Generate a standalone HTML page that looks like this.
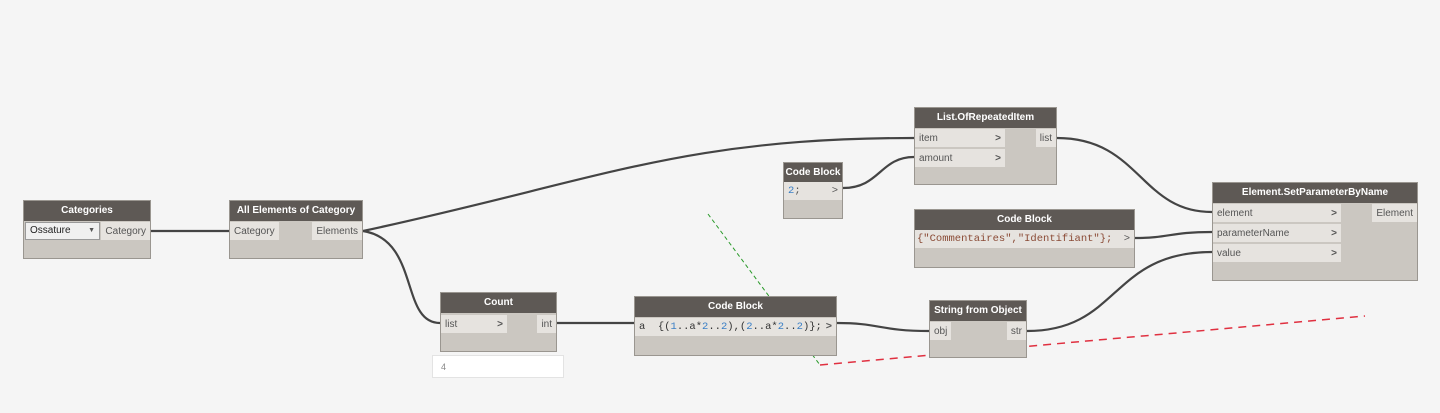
<!DOCTYPE html>
<html><head><style>
body{margin:0;width:1440px;height:413px;background:#f5f5f5;position:relative;overflow:hidden;font-family:"Liberation Sans",sans-serif;font-size:10px;color:#555}
.n{position:absolute;background:#cbc7c1;border:1px solid #9a9690;box-sizing:border-box}
.h{background:#5e5955;color:#fff;font-weight:bold;font-size:10px;text-align:center;height:20px;line-height:20px}
.p{position:absolute;background:#e6e3df;height:18px;line-height:19px;padding:0 4px;box-sizing:border-box;white-space:nowrap}
.a{position:absolute;right:4px;font-weight:bold;color:#555}
.m{font-family:"Liberation Mono",monospace;font-size:10.5px}
.b{color:#3a7fc6}.s{color:#8a4a35}
svg{position:absolute;left:0;top:0}
</style></head><body>
<svg width="1440" height="413">
<g fill="none" stroke="#444" stroke-width="2.2">
<path d="M151 231 L229 231"/>
<path d="M363 231 C600 180, 680 138, 914 138"/>
<path d="M363 231 C420 240, 400 323, 440 323"/>
<path d="M557 323 L634 323"/>
<path d="M837 323 C880 323, 880 331, 929 331"/>
<path d="M843 188 C880 188, 880 157, 914 157"/>
<path d="M1057 138 C1140 138, 1140 212, 1212 212"/>
<path d="M1135 238 C1170 238, 1170 232, 1212 232"/>
<path d="M1027 331 C1120 331, 1110 252, 1212 252"/>
</g>
<path d="M708 214 L820 365" stroke="#2a9a2a" stroke-width="1" stroke-dasharray="4,3"/>
<path d="M820 365 L1365 316" stroke="#e03040" stroke-width="1.5" stroke-dasharray="8,6"/>
</svg>

<div class="n" style="left:23px;top:200px;width:128px;height:59px"><div class="h">Categories</div>
<div class="p" style="left:1px;top:21px;width:75px;background:#f0f0f0;border:1px solid #999;color:#222;line-height:16px">Ossature<span class="a" style="font-size:7px">▼</span></div>
<div class="p" style="right:0;top:21px">Category</div></div>

<div class="n" style="left:229px;top:200px;width:134px;height:59px"><div class="h">All Elements of Category</div>
<div class="p" style="left:0;top:21px">Category</div>
<div class="p" style="right:0;top:21px">Elements</div></div>

<div class="n" style="left:440px;top:292px;width:117px;height:60px"><div class="h">Count</div>
<div class="p" style="left:0;top:22px;width:66px">list<span class="a">&gt;</span></div>
<div class="p" style="right:0;top:22px">int</div></div>
<div style="position:absolute;left:432px;top:355px;width:132px;height:23px;background:#fff;border:1px solid #e3e3e3;box-sizing:border-box;padding:6px 8px;font-size:9px;color:#888">4</div>

<div class="n" style="left:634px;top:296px;width:203px;height:60px"><div class="h">Code Block</div>
<div class="p m" style="left:0;top:21px;width:201px;color:#333">a&nbsp;&nbsp;{(<span class="b">1</span>..a*<span class="b">2</span>..<span class="b">2</span>),(<span class="b">2</span>..a*<span class="b">2</span>..<span class="b">2</span>)};<span class="a">&gt;</span></div></div>

<div class="n" style="left:929px;top:300px;width:98px;height:58px"><div class="h">String from Object</div>
<div class="p" style="left:0;top:21px">obj</div>
<div class="p" style="right:0;top:21px">str</div></div>

<div class="n" style="left:914px;top:107px;width:143px;height:78px"><div class="h">List.OfRepeatedItem</div>
<div class="p" style="left:0;top:21px;width:90px">item<span class="a">&gt;</span></div>
<div class="p" style="left:0;top:41px;width:90px">amount<span class="a">&gt;</span></div>
<div class="p" style="right:0;top:21px">list</div></div>

<div class="n" style="left:783px;top:162px;width:60px;height:57px"><div class="h">Code Block</div>
<div class="p m" style="left:0;top:19px;width:58px"><span class="b">2</span>;<span class="a" style="font-weight:normal">&gt;</span></div></div>

<div class="n" style="left:914px;top:209px;width:221px;height:59px"><div class="h">Code Block</div>
<div class="p m s" style="left:0;top:20px;width:219px;padding-left:2px">{"Commentaires","Identifiant"};<span class="a" style="color:#555;font-weight:normal">&gt;</span></div></div>

<div class="n" style="left:1212px;top:182px;width:206px;height:99px"><div class="h">Element.SetParameterByName</div>
<div class="p" style="left:0;top:21px;width:128px">element<span class="a">&gt;</span></div>
<div class="p" style="left:0;top:41px;width:128px">parameterName<span class="a">&gt;</span></div>
<div class="p" style="left:0;top:61px;width:128px">value<span class="a">&gt;</span></div>
<div class="p" style="right:0;top:21px">Element</div></div>
</body></html>
